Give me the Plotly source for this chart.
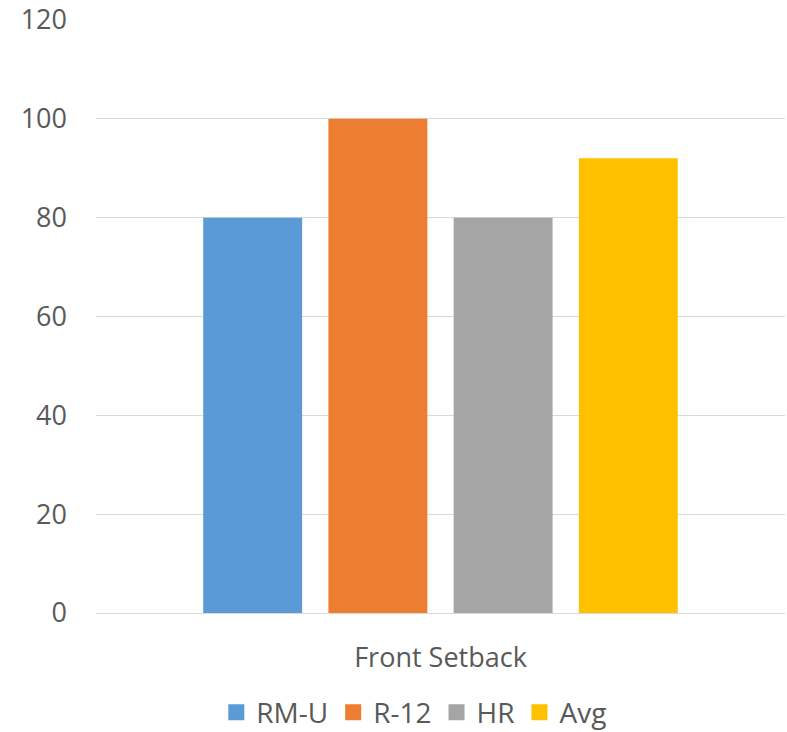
import plotly.graph_objects as go

categories = ["Front Setback"]
series_names = ["RM-U", "R-12", "HR", "Avg"]
series_values = [[80], [100], [80], [92]]
series_colors = ["#5B9BD5", "#ED7D31", "#A5A5A5", "#FFC000"]
y_ticks = [0, 20, 40, 60, 80, 100, 120]

fig = go.Figure()
for name, vals, color in zip(series_names, series_values, series_colors):
    fig.add_trace(go.Bar(x=categories, y=vals, name=name, marker_color=color,
                         marker_line_width=0, showlegend=False))
    # square legend key
    fig.add_trace(go.Scatter(x=[None], y=[None], mode="markers", name=name,
                             marker=dict(symbol="square", size=18, color=color)))

font_family = "Open Sans, Liberation Sans, sans-serif"
fig.update_layout(
    width=787, height=732,
    margin=dict(l=96, r=2, t=20, b=119, autoexpand=False),
    paper_bgcolor="white", plot_bgcolor="white",
    barmode="group", bargap=0.273, bargroupgap=0.21,
    font=dict(family=font_family, size=28, color="#595959"),
    showlegend=True,
    legend=dict(orientation="h", x=0.462, xanchor="center", y=-0.168, yanchor="middle",
                font=dict(size=28, color="#595959"), itemwidth=30,
                traceorder="normal", itemsizing="trace"),
    xaxis=dict(showgrid=False, showline=False, ticks="", tickfont=dict(size=27),
               ticklabelstandoff=26),
    yaxis=dict(range=[0, 120], tickvals=y_ticks, showgrid=True, gridcolor="#D9D9D9",
               gridwidth=1.3, zeroline=True, zerolinecolor="#D9D9D9", zerolinewidth=1.3,
               showline=False, ticks="", ticklabelstandoff=28, tickfont=dict(size=27)),
)

fig.write_html("out.html")
